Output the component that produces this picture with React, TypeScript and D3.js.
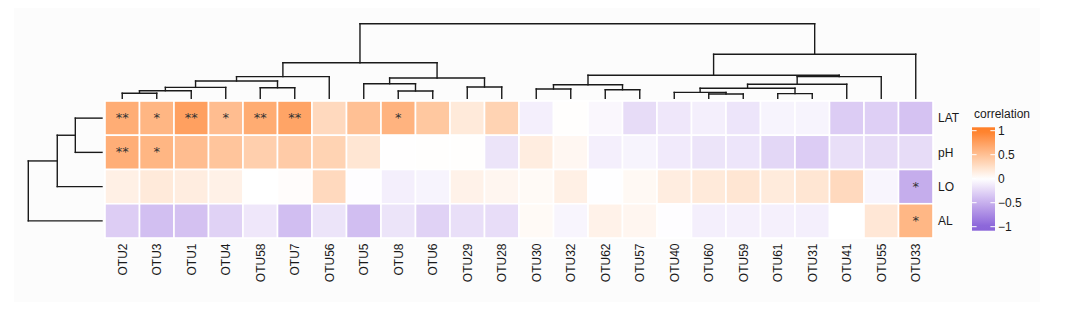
import React from "react";
import * as d3 from "d3";

const otus = ["OTU2","OTU3","OTU1","OTU4","OTU58","OTU7","OTU56","OTU5","OTU8","OTU6","OTU29","OTU28","OTU30","OTU32","OTU62","OTU57","OTU40","OTU60","OTU59","OTU61","OTU31","OTU41","OTU55","OTU33"];
const vars = ["LAT","pH","LO","AL"];

const rLAT = [0.65,0.58,0.75,0.52,0.66,0.72,0.30,0.50,0.60,0.44,0.17,0.35,-0.10,0.01,-0.05,-0.22,-0.15,-0.10,-0.16,-0.07,-0.07,-0.32,-0.30,-0.38];
const rPH  = [0.64,0.58,0.52,0.46,0.38,0.41,0.35,0.20,0.005,0.01,0.01,-0.17,0.14,0.06,-0.10,-0.07,-0.13,-0.17,-0.16,-0.25,-0.32,-0.20,-0.22,-0.22];
const rLO  = [0.12,0.17,0.14,0.11,0.0,0.02,0.30,-0.01,-0.10,-0.07,0.10,0.07,0.04,0.12,-0.005,0.05,0.14,0.17,0.20,0.16,0.20,0.30,-0.06,-0.52];
const rAL  = [-0.31,-0.40,-0.39,-0.28,-0.15,-0.41,-0.17,-0.41,-0.17,-0.28,-0.20,-0.21,0.04,-0.06,0.10,0.07,-0.01,-0.10,-0.09,-0.09,-0.10,0.0,0.19,0.57];

const sigLAT = ["**","*","**","*","**","**","","","*","","","","","","","","","","","","","","",""];
const sigPH  = ["**","*","","","","","","","","","","","","","","","","","","","","","",""];
const sigLO  = ["","","","","","","","","","","","","","","","","","","","","","","","*"];
const sigAL  = ["","","","","","","","","","","","","","","","","","","","","","","","*"];

const values = [rLAT, rPH, rLO, rAL];
const sigs = [sigLAT, sigPH, sigLO, sigAL];

// column dendrogram merges: [left, right, height]; numbers refer to earlier merges
const colMerges: [string | number, string | number, number][] = [
  ["OTU2", "OTU3", 0.067],   // 0
  [0, "OTU1", 0.102],        // 1
  [1, "OTU4", 0.147],        // 2
  ["OTU58", "OTU7", 0.142],  // 3
  [2, 3, 0.232],             // 4
  [4, "OTU56", 0.290],       // 5
  ["OTU8", "OTU6", 0.098],   // 6
  ["OTU5", 6, 0.196],        // 7
  ["OTU29", "OTU28", 0.151], // 8
  [7, 8, 0.272],             // 9
  [5, 9, 0.477],             // 10
  ["OTU30", "OTU32", 0.125], // 11
  ["OTU62", "OTU57", 0.115], // 12
  [11, 12, 0.182],           // 13
  ["OTU60", "OTU59", 0.058], // 14
  ["OTU40", 14, 0.080],      // 15
  ["OTU61", "OTU31", 0.062], // 16
  [15, 16, 0.134],           // 17
  [17, "OTU41", 0.188],      // 18
  [18, "OTU55", 0.290],      // 19
  [13, 19, 0.308],           // 20
  [20, "OTU33", 0.590],      // 21
  [10, 21, 1.0],             // 22
];

const rowMerges: [string | number, string | number, number][] = [
  ["LAT", "pH", 0.362],
  [0, "LO", 0.607],
  [1, "AL", 1.0],
];

const legendTicks = [1, 0.5, 0, -0.5, -1];

const HIGH = "#FF7F27";
const LOW = "#8A64D9";

type Seg = { x1: number; y1: number; x2: number; y2: number };

function buildDendro(
  merges: [string | number, string | number, number][],
  leafPos: (n: string) => number,
  hPos: (h: number) => number,
  vertical: boolean
): Seg[] {
  const pos: number[] = [];
  const hts: number[] = [];
  const segs: Seg[] = [];
  const get = (c: string | number) =>
    typeof c === "number" ? { p: pos[c], h: hts[c] } : { p: leafPos(c), h: 0 };
  merges.forEach(([a, b, h], i) => {
    const A = get(a);
    const B = get(b);
    const p = (A.p + B.p) / 2;
    pos[i] = p;
    hts[i] = h;
    const hy = hPos(h);
    if (vertical) {
      segs.push({ x1: A.p, y1: hy, x2: B.p, y2: hy });
      segs.push({ x1: A.p, y1: hy, x2: A.p, y2: hPos(A.h) });
      segs.push({ x1: B.p, y1: hy, x2: B.p, y2: hPos(B.h) });
    } else {
      segs.push({ x1: hy, y1: A.p, x2: hy, y2: B.p });
      segs.push({ x1: hy, y1: A.p, x2: hPos(A.h), y2: A.p });
      segs.push({ x1: hy, y1: B.p, x2: hPos(B.h), y2: B.p });
    }
  });
  return segs;
}

export default function App() {
  const W = 1080, H = 331;
  const x = d3.scaleBand<string>().domain(otus).range([105, 933]);
  const y = d3.scaleBand<string>().domain(vars).range([101, 238]);
  const color = d3
    .scaleLinear<string>()
    .domain([-1, 0, 1])
    .range([LOW, "#FFFFFF", HIGH])
    .interpolate(d3.interpolateLab)
    .clamp(true);

  const colH = d3.scaleLinear().domain([0, 1]).range([98.3, 23.7]);
  const rowH = d3.scaleLinear().domain([0, 1]).range([102, 28.3]);

  const colSegs = buildDendro(colMerges, (n) => (x(n) as number) + x.bandwidth() / 2, colH, true);
  const rowSegs = buildDendro(rowMerges, (n) => (y(n) as number) + y.bandwidth() / 2, rowH, false);

  const legY = d3.scaleLinear().domain([-1, 1]).range([226.7, 130.7]);
  const legTop = 127.3, legBot = 230.7;
  const legX = 972, legW = 23;
  const stops = d3.range(0, 21).map((i) => {
    const v = legY.invert(legTop + ((legBot - legTop) * i) / 20);
    return { off: i / 20, c: color(v) };
  });

  const font = "'Liberation Sans', Arial, sans-serif";

  return (
    <svg
      width={W}
      height={H}
      style={{ position: "absolute", left: 0, top: 0, background: "#fff" }}
      fontFamily={font}
    >
      <defs>
        <linearGradient id="leg" x1="0" y1="0" x2="0" y2="1">
          {stops.map((s, i) => (
            <stop key={i} offset={s.off} stopColor={s.c} />
          ))}
        </linearGradient>
      </defs>
      <rect width={W} height={H} fill="#fff" />
      <rect x={14} y={8} width={1026} height={294} fill="#FCFCFC" />
      {/* heatmap */}
      {vars.map((v, ri) =>
        otus.map((o, ci) => (
          <rect
            key={v + o}
            x={x(o)}
            y={y(v)}
            width={x.bandwidth()}
            height={y.bandwidth()}
            fill={color(values[ri][ci])}
            stroke="#fff"
            strokeWidth={1.6}
          />
        ))
      )}
      {vars.map((v, ri) =>
        otus.map((o, ci) =>
          sigs[ri][ci] ? (
            <text
              key={"s" + v + o}
              x={(x(o) as number) + x.bandwidth() / 2}
              y={(y(v) as number) + y.bandwidth() / 2 + 4}
              textAnchor="middle"
              fontSize={13}
              fill="#333"
              fontFamily="'DejaVu Sans', sans-serif"
            >
              {sigs[ri][ci]}
            </text>
          ) : null
        )
      )}
      {/* dendrograms */}
      <g stroke="#1a1a1a" strokeWidth={1.4} fill="none" strokeLinecap="square">
        {colSegs.map((s, i) => (
          <line key={"c" + i} x1={s.x1} y1={s.y1} x2={s.x2} y2={s.y2} />
        ))}
        {rowSegs.map((s, i) => (
          <line key={"r" + i} x1={s.x1} y1={s.y1} x2={s.x2} y2={s.y2} />
        ))}
      </g>
      {/* bottom labels */}
      {otus.map((o) => {
        const cx = (x(o) as number) + x.bandwidth() / 2 + 4.3;
        const ty = 243.5;
        return (
          <text
            key={"l" + o}
            transform={`translate(${cx},${ty}) rotate(-90)`}
            textAnchor="end"
            fontSize={12}
            fill="#1a1a1a"
          >
            {o}
          </text>
        );
      })}
      {/* right labels */}
      {vars.map((v) => (
        <text
          key={"rl" + v}
          x={938}
          y={(y(v) as number) + y.bandwidth() / 2 + 4.3}
          fontSize={12}
          fill="#1a1a1a"
        >
          {v}
        </text>
      ))}
      {/* legend */}
      <text x={974} y={117.5} fontSize={12} fill="#1a1a1a">
        correlation
      </text>
      <rect x={legX} y={legTop} width={legW} height={legBot - legTop} fill="url(#leg)" />
      {legendTicks.map((t) => (
        <g key={"t" + t}>
          <line x1={legX} x2={legX + 4.6} y1={legY(t)} y2={legY(t)} stroke="#fff" strokeWidth={1} />
          <line x1={legX + legW - 4.6} x2={legX + legW} y1={legY(t)} y2={legY(t)} stroke="#fff" strokeWidth={1} />
          <text x={998} y={legY(t) + 4.3} fontSize={12} fill="#1a1a1a">
            {t === 0 ? "0" : t < 0 ? "\u2212" + String(-t) : String(t)}
          </text>
        </g>
      ))}
    </svg>
  );
}
